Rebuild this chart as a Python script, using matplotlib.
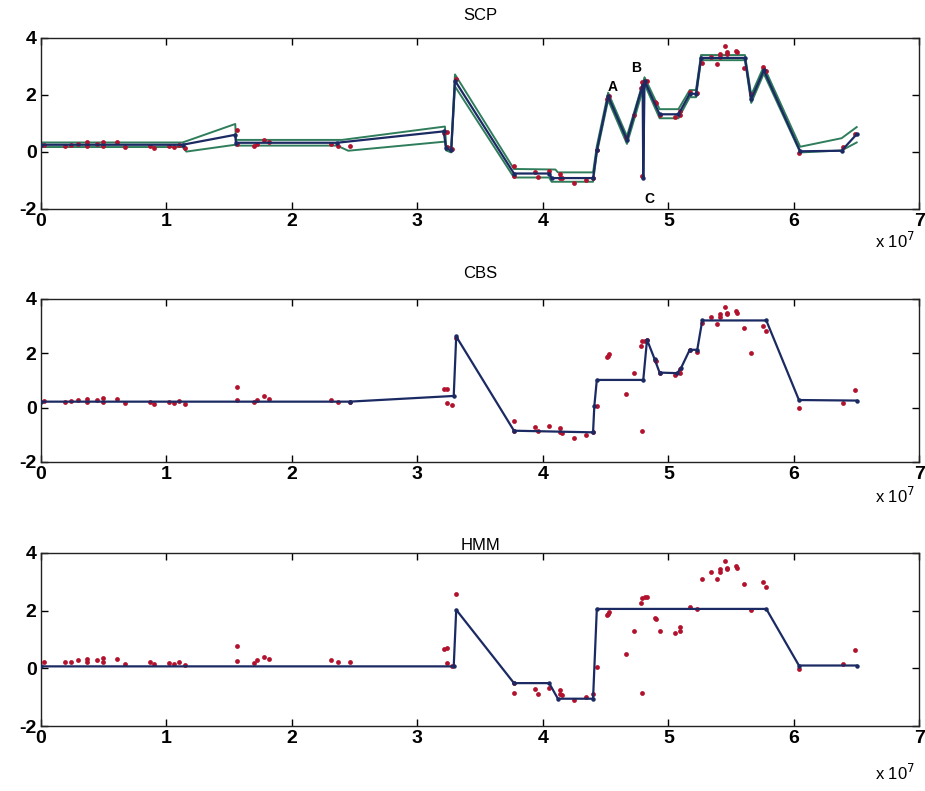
import matplotlib
matplotlib.use("Agg")
import matplotlib.pyplot as plt

plt.rcParams['font.family'] = ['Liberation Sans', 'DejaVu Sans']

# ---------------- data (x in units of 1e7) ----------------
probe_x = [0.03, 0.19, 0.24, 0.30, 0.37, 0.37, 0.45, 0.50, 0.50, 0.61, 0.67,
           0.87, 0.90, 1.02, 1.06, 1.10, 1.15, 1.56, 1.56, 1.70, 1.72, 1.78,
           1.82, 2.31, 2.37, 2.46, 3.21, 3.24, 3.24, 3.28, 3.31, 3.77, 3.77,
           3.94, 3.96, 4.05, 4.14, 4.14, 4.15, 4.25, 4.34, 4.40, 4.43, 4.51,
           4.52, 4.53, 4.66, 4.73, 4.78, 4.79, 4.81, 4.83, 4.79, 4.89, 4.90,
           4.93, 5.05, 5.09, 5.09, 5.17, 5.23, 5.27, 5.34, 5.39, 5.41, 5.41,
           5.45, 5.47, 5.47, 5.54, 5.55, 5.60, 5.66, 5.75, 5.78, 6.04, 6.39,
           6.49]
probe_y = [0.23, 0.21, 0.23, 0.28, 0.33, 0.21, 0.29, 0.35, 0.21, 0.33, 0.16,
           0.21, 0.14, 0.19, 0.16, 0.23, 0.12, 0.76, 0.27, 0.19, 0.28, 0.41,
           0.33, 0.28, 0.21, 0.21, 0.67, 0.70, 0.17, 0.10, 2.56, -0.51, -0.85,
           -0.70, -0.87, -0.68, -0.76, -0.90, -0.93, -1.10, -0.99, -0.90, 0.05,
           1.86, 1.90, 1.97, 0.51, 1.29, 2.26, 2.44, 2.46, 2.49, -0.85, 1.75,
           1.72, 1.29, 1.21, 1.43, 1.29, 2.11, 2.06, 3.11, 3.34, 3.09, 3.44,
           3.34, 3.72, 3.49, 3.44, 3.55, 3.49, 2.94, 2.02, 2.99, 2.83, -0.03,
           0.16, 0.64]

# SCP: centre estimate and upper / lower bounds
scp_x = [0, 1.13, 1.55, 1.555, 2.36, 3.21, 3.23, 3.27, 3.30, 3.77, 4.05, 4.07,
         4.40, 4.43, 4.52, 4.67, 4.795, 4.80, 4.81, 4.93, 5.08, 5.17, 5.22,
         5.26, 5.61, 5.66, 5.76, 6.05, 6.38, 6.50]
scp_y = [0.25, 0.25, 0.60, 0.32, 0.32, 0.72, 0.12, 0.05, 2.50, -0.76, -0.76,
         -0.92, -0.92, 0.05, 1.95, 0.42, 2.35, -0.92, 2.50, 1.32, 1.32, 2.04,
         2.04, 3.30, 3.30, 1.85, 2.87, 0.02, 0.04, 0.62]
scp_up_x = [0, 1.13, 1.55, 1.555, 2.40, 3.22, 3.23, 3.27, 3.30, 3.77, 4.10,
            4.12, 4.40, 4.43, 4.52, 4.67, 4.81, 4.93, 5.08, 5.17, 5.22, 5.26,
            5.61, 5.66, 5.76, 6.05, 6.38, 6.50]
scp_up_y = [0.33, 0.33, 0.98, 0.42, 0.42, 0.89, 0.20, 0.15, 2.72, -0.60,
            -0.62, -0.72, -0.72, 0.20, 2.08, 0.55, 2.62, 1.50, 1.50, 2.17,
            2.17, 3.40, 3.40, 2.00, 3.00, 0.18, 0.48, 0.87]
scp_lo_x = [0, 1.13, 1.16, 1.55, 1.555, 2.36, 2.45, 3.22, 3.23, 3.27, 3.30,
            3.77, 4.05, 4.07, 4.40, 4.43, 4.52, 4.67, 4.81, 4.93, 5.08, 5.17,
            5.22, 5.26, 5.61, 5.66, 5.76, 6.05, 6.38, 6.50]
scp_lo_y = [0.17, 0.17, 0.01, 0.25, 0.22, 0.22, 0.04, 0.36, 0.05, -0.02,
            2.30, -0.90, -0.90, -1.05, -1.05, -0.05, 1.82, 0.28, 2.38, 1.18,
            1.18, 1.92, 1.92, 3.22, 3.22, 1.72, 2.75, -0.02, 0.05, 0.33]

cbs_x = [0, 2.46, 3.29, 3.31, 3.77, 4.40, 4.41, 4.43, 4.80, 4.83, 4.89, 4.93,
         5.07, 5.10, 5.17, 5.23, 5.27, 5.78, 6.04, 6.50]
cbs_y = [0.22, 0.22, 0.43, 2.62, -0.85, -0.91, 0.05, 1.02, 1.02, 2.50, 1.79,
         1.29, 1.27, 1.45, 2.13, 2.13, 3.21, 3.21, 0.28, 0.26]

hmm_x = [0, 3.29, 3.31, 3.77, 4.05, 4.12, 4.40, 4.43, 5.78, 6.04, 6.50]
hmm_y = [0.07, 0.07, 2.03, -0.51, -0.51, -1.05, -1.05, 2.06, 2.06, 0.10, 0.10]

titles = ["SCP", "CBS", "HMM"]
labels = [("A", 4.56, 2.28), ("B", 4.74, 2.95), ("C", 4.85, -1.65)]

xticks = [0, 1, 2, 3, 4, 5, 6, 7]
yticks = [-2, 0, 2, 4]

# ---------------- style ----------------
NAVY = "#1b2a63"
GREEN = "#2f7d5b"
RED = "#b3122e"

fig = plt.figure(figsize=(9.25, 7.91), dpi=100)
boxes = [(0.044, 0.736, 0.950, 0.216),
         (0.044, 0.416, 0.950, 0.206),
         (0.044, 0.082, 0.950, 0.219)]
title_pads = [13, 15, 2]
x10_y = [-0.19, -0.21, -0.27]

axes = []
for i, b in enumerate(boxes):
    ax = fig.add_axes(b)
    axes.append(ax)
    ax.set_xlim(0, 7)
    ax.set_ylim(-2, 4)
    ax.set_xticks(xticks)
    ax.set_yticks(yticks)
    ax.set_xticklabels([str(t) for t in xticks])
    ax.set_yticklabels([str(t) for t in yticks])
    ax.tick_params(direction='in', length=5, width=1.0, top=True, right=True,
                   labelsize=14, pad=3)
    for lab in ax.get_xticklabels() + ax.get_yticklabels():
        lab.set_fontweight('bold')
    for s in ax.spines.values():
        s.set_linewidth(1.0)
        s.set_color('#222222')
    ax.set_title(titles[i], fontsize=12, pad=title_pads[i])
    ax.text(0.995, x10_y[i], r"x 10$^7$", transform=ax.transAxes, ha='right',
            va='center', fontsize=12)

# SCP
ax = axes[0]
ax.plot(scp_up_x, scp_up_y, color=GREEN, lw=1.4, zorder=2)
ax.plot(scp_lo_x, scp_lo_y, color=GREEN, lw=1.4, zorder=2)
ax.scatter(probe_x, probe_y, s=12, color=RED, zorder=3, linewidths=0)
ax.plot(scp_x, scp_y, color=NAVY, lw=1.6, zorder=4, marker='o', ms=2.2)
for t, lx, ly in labels:
    ax.text(lx, ly, t, fontsize=10, fontweight='bold', ha='center', va='center')

# CBS
ax = axes[1]
ax.scatter(probe_x, probe_y, s=12, color=RED, zorder=3, linewidths=0)
ax.plot(cbs_x, cbs_y, color=NAVY, lw=1.6, zorder=4, marker='o', ms=2.2)

# HMM
ax = axes[2]
ax.scatter(probe_x, probe_y, s=12, color=RED, zorder=3, linewidths=0)
ax.plot(hmm_x, hmm_y, color=NAVY, lw=1.6, zorder=4, marker='o', ms=2.2)

fig.savefig("out.png", dpi=100)
